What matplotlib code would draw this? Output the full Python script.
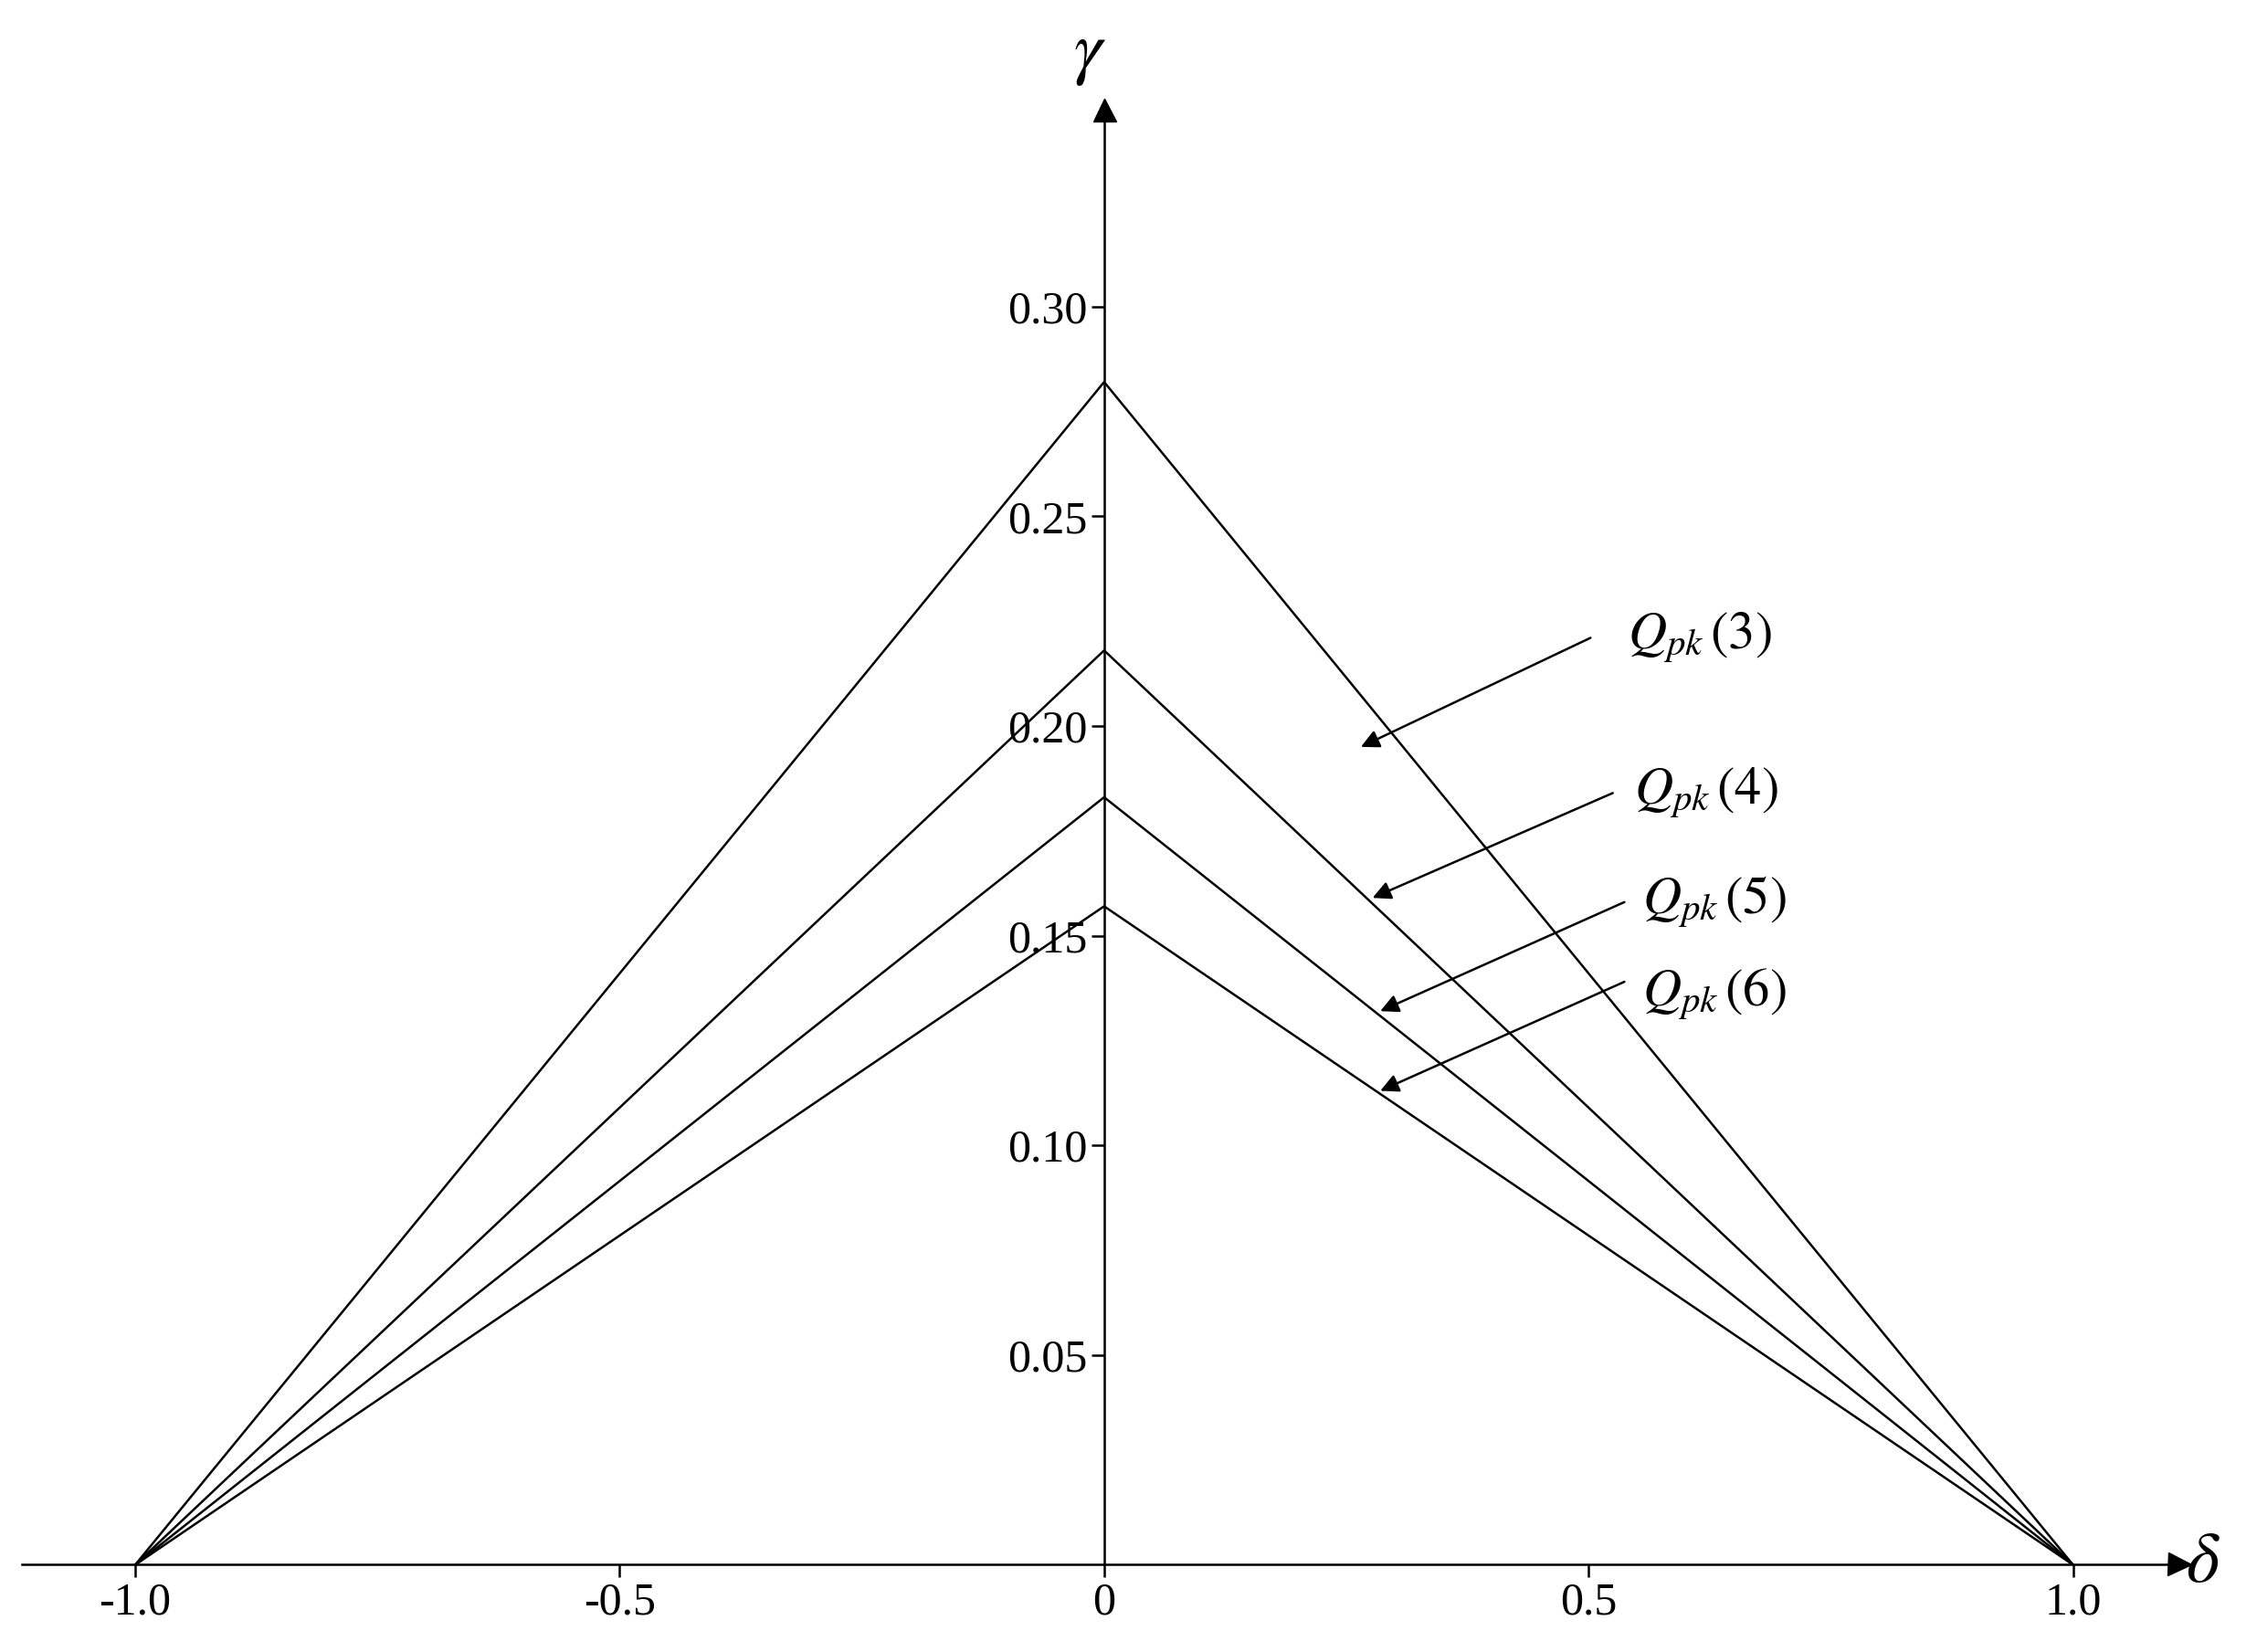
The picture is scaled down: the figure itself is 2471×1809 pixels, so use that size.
import matplotlib
matplotlib.use("Agg")
import matplotlib.pyplot as plt

plt.rcParams['font.family'] = ['Liberation Serif', 'DejaVu Serif']
plt.rcParams['mathtext.fontset'] = 'stix'

# series: peak gamma at delta=0, zero at delta=+-1
delta = [-1.0, 0.0, 1.0]
peaks = [0.282, 0.218, 0.183, 0.157]
labels = [r'$Q_{pk}\,(3)$', r'$Q_{pk}\,(4)$', r'$Q_{pk}\,(5)$', r'$Q_{pk}\,(6)$']
# annotation: text position, arrow tail, arrow tip (data coords)
text_pos = [(0.54, 0.221), (0.547, 0.184), (0.555, 0.158), (0.555, 0.136)]
tails = [(0.502, 0.221), (0.525, 0.184), (0.537, 0.158), (0.537, 0.139)]
tips = [(0.265, 0.195), (0.277, 0.159), (0.285, 0.132), (0.285, 0.113)]

xticks = [-1.0, -0.5, 0.0, 0.5, 1.0]
xticklabels = ['-1.0', '-0.5', '0', '0.5', '1.0']
yticks = [0.05, 0.10, 0.15, 0.20, 0.25, 0.30]
yticklabels = ['0.05', '0.10', '0.15', '0.20', '0.25', '0.30']

fig = plt.figure(figsize=(24.71, 18.09), dpi=100)
ax = fig.add_axes([0.0097, 0.0528, 0.956, 0.881])

for p in peaks:
    ax.plot(delta, [0, p, 0], color='black', lw=1.8)

for lab, tp, tl, tip in zip(labels, text_pos, tails, tips):
    ax.annotate('', xy=tip, xytext=tl,
                arrowprops=dict(arrowstyle='-|>', color='black', lw=1.8,
                                mutation_scale=30, shrinkA=0, shrinkB=0))
    ax.text(tp[0], tp[1], lab, fontsize=42, va='center', ha='left')

ax.set_xlim(-1.117, 1.11)
ax.set_ylim(0, 0.347)
ax.spines['left'].set_position(('data', 0))
ax.spines['bottom'].set_position(('data', 0))
ax.spines['top'].set_visible(False)
ax.spines['right'].set_visible(False)
for s in ax.spines.values():
    s.set_linewidth(1.8)

ax.set_xticks(xticks)
ax.set_xticklabels(xticklabels)
ax.set_yticks(yticks)
ax.set_yticklabels(yticklabels)
ax.tick_params(labelsize=36, width=1.8, length=10, direction='out')

ax.plot(1, 0, '>k', markersize=18, transform=ax.get_yaxis_transform(), clip_on=False)
ax.plot(0, 1, '^k', markersize=18, transform=ax.get_xaxis_transform(), clip_on=False)
ax.text(1.134, 0, r'$\delta$', fontsize=56, va='center', ha='center')
ax.text(-0.015, 0.36, r'$\gamma$', fontsize=56, va='center', ha='center')

fig.savefig('out.png', dpi=100)
